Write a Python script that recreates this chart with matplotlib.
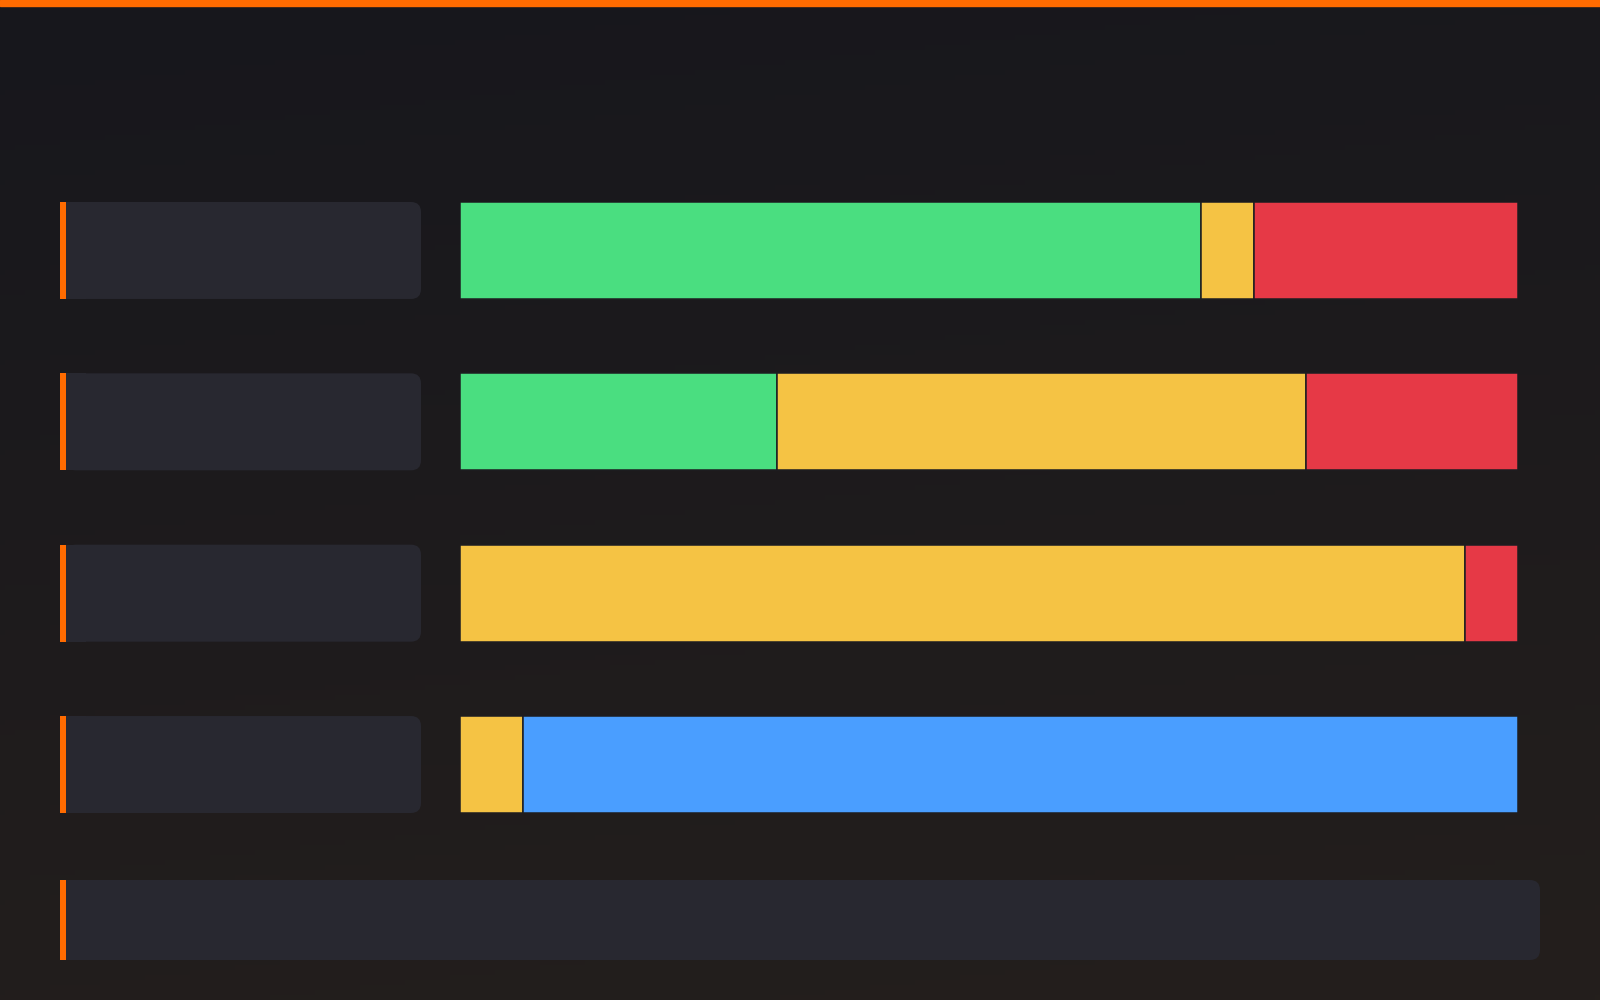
import matplotlib
matplotlib.use('Agg')
import matplotlib.pyplot as plt
import numpy as np
from matplotlib.patches import FancyBboxPatch, Rectangle

# share of each status per row (percent)
rows = ['row1', 'row2', 'row3', 'row4']
green = [70, 30, 0, 0]
yellow = [5, 50, 95, 6]
red = [25, 20, 5, 0]
blue = [0, 0, 0, 94]

series = [green, yellow, red, blue]
colors = ['#4ADE80', '#F5C344', '#E63946', '#4A9EFF']

ORANGE = '#FF6B00'
BOX = '#282830'
SEP = '#1d1d21'

W, H = 1600, 1000
fig = plt.figure(figsize=(16, 10), dpi=100)

# background axes in pixel coords
bg = fig.add_axes([0, 0, 1, 1])
bg.set_xlim(0, W)
bg.set_ylim(H, 0)
bg.axis('off')

top = np.array([23, 23, 28]) / 255
bot = np.array([36, 31, 28]) / 255
yy, xx = np.mgrid[0:1:200j, 0:1:320j]
t = np.clip(0.85 * yy + 0.15 * xx, 0, 1)[..., None]
grad = top + (bot - top) * t
bg.imshow(grad, extent=(0, W, H, 0), aspect='auto', zorder=0)

bg.add_patch(Rectangle((0, 0), W, 6, color=ORANGE, zorder=3))

# bar axes
y0, y1 = 202, 813
bar_h = 0.566
ax = fig.add_axes([460 / W, 1 - y1 / H, 1058 / W, (y1 - y0) / H])
ax.set_xlim(0, 100)
ax.set_ylim(len(rows) - 1 + bar_h / 2, -bar_h / 2)
ax.axis('off')

ypos = np.arange(len(rows))
left = np.zeros(len(rows))
for vals, c in zip(series, colors):
    vals = np.array(vals, dtype=float)
    m = vals > 0
    ax.barh(ypos[m], vals[m], left=left[m], height=bar_h, color=c,
            edgecolor=SEP, linewidth=1.1)
    left += vals

# label boxes next to each bar
row_px = (y1 - y0) / (len(rows) - 1 + bar_h)
box_h = bar_h * row_px
for i in range(len(rows)):
    ytop = y0 + i * row_px
    bg.add_patch(FancyBboxPatch((66, ytop), 355, box_h,
                                boxstyle='round,pad=0,rounding_size=10',
                                fc=BOX, ec='none', zorder=2))
    bg.add_patch(Rectangle((66, ytop), 20, box_h, fc=BOX, ec='none', zorder=2))
    bg.add_patch(Rectangle((60, ytop), 6, box_h, fc=ORANGE, ec='none', zorder=3))

# bottom panel
bg.add_patch(FancyBboxPatch((66, 880), 1474, 80,
                            boxstyle='round,pad=0,rounding_size=10',
                            fc=BOX, ec='none', zorder=2))
bg.add_patch(Rectangle((66, 880), 20, 80, fc=BOX, ec='none', zorder=2))
bg.add_patch(Rectangle((60, 880), 6, 80, fc=ORANGE, ec='none', zorder=3))

fig.savefig('out.png', dpi=100)
